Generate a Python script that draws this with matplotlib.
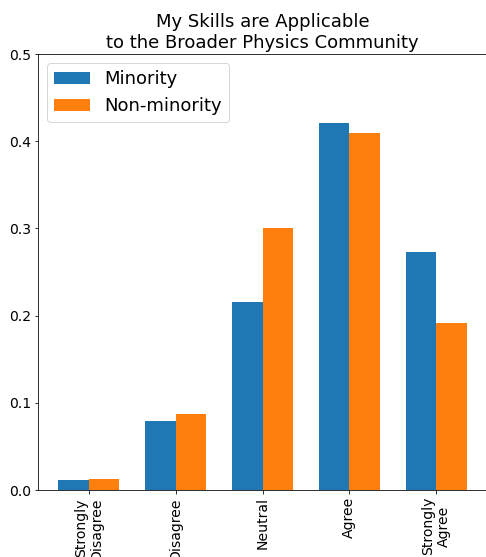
import numpy as np
from matplotlib import pyplot as plt

categories = ["Strongly\nDisagree", "Disagree", "Neutral", "Agree", "Strongly\nAgree"]
minority = [0.0115, 0.079, 0.2156, 0.421, 0.273]
non_minority = [0.0126, 0.087, 0.300, 0.409, 0.1915]

bar_width = 0.35
x = np.arange(len(categories))

# the reference was drawn at 72 dpi
figure = plt.figure(figsize=(486 / 72, 557 / 72), dpi=72)
axes = figure.add_axes([38 / 486, 1 - 490 / 557, 449 / 486, 436 / 557])

axes.bar(x - bar_width / 2, minority, bar_width, label="Minority", color="#1f77b4")
axes.bar(x + bar_width / 2, non_minority, bar_width, label="Non-minority", color="#ff7f0e")

axes.set_title("My Skills are Applicable\nto the Broader Physics Community", fontsize=18)
axes.set_ylim(0.0, 0.5)
axes.set_yticks([0.0, 0.1, 0.2, 0.3, 0.4, 0.5])
axes.set_xticks(x)
axes.set_xticklabels(categories, rotation=90)
axes.tick_params(axis="x", labelsize=14)
axes.tick_params(axis="y", labelsize=14)
axes.legend(loc="upper left", fontsize=18)

figure.savefig("out.png", dpi=72)
